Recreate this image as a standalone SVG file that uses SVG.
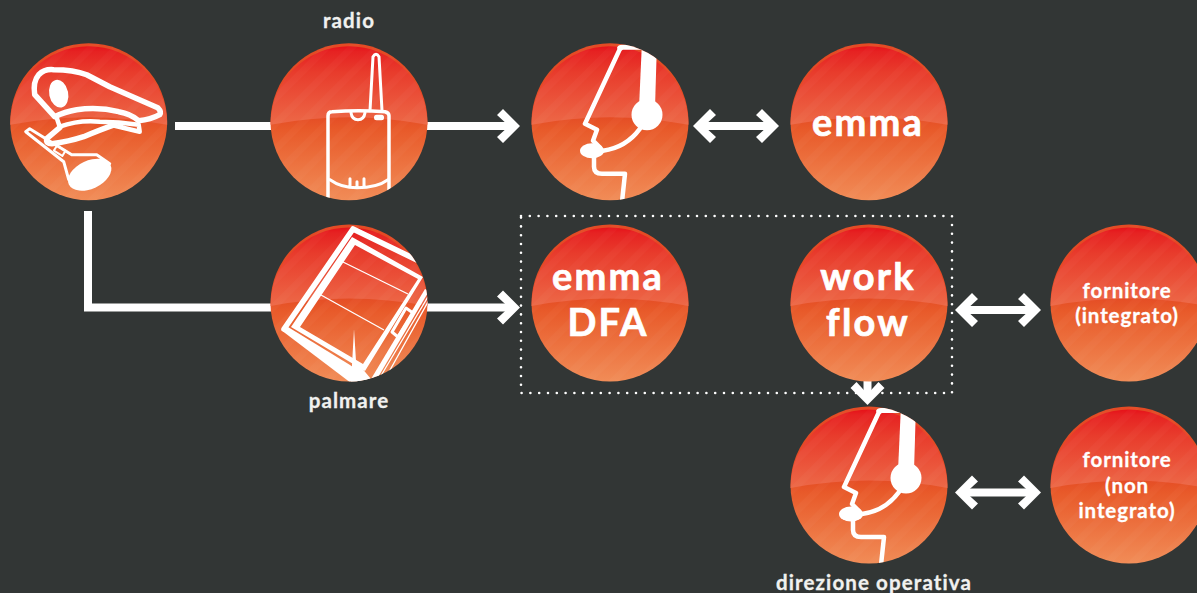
<svg xmlns="http://www.w3.org/2000/svg" xmlns:xlink="http://www.w3.org/1999/xlink" width="1197" height="593" viewBox="0 0 1197 593">
<style>
text{font-family:Lato,"Noto Sans",sans-serif;font-weight:700;fill:#fff;text-anchor:middle}
.lab{font-size:20.500px;fill:#f1f1ef;letter-spacing:1.100px;stroke:#f1f1ef;stroke-width:.3px}
.big{font-size:38px;letter-spacing:2.200px;stroke:#fff;stroke-width:.7px}
.small{font-size:20.500px;letter-spacing:.9px;stroke:#fff;stroke-width:.3px}
.conn{fill:none;stroke:#fff;stroke-width:8}
.dot{fill:none;stroke:#fff;stroke-width:2.600;stroke-linecap:round;stroke-dasharray:0 8.800}
.ln{fill:none;stroke:#fff;stroke-width:4.500;stroke-linejoin:round;stroke-linecap:round}
.cap{fill:none;stroke:#fff;stroke-width:5.500;stroke-linejoin:round;stroke-linecap:round}
.th{fill:none;stroke:#fff;stroke-width:3;stroke-linejoin:round;stroke-linecap:round}
.hl{fill:none;stroke:#fff;stroke-width:1.300}
.f{fill:#fff}
</style>
<defs>
<linearGradient id="gLow" x1="0" y1="0" x2="0" y2="1"><stop offset=".45" stop-color="#e44a24"/><stop offset=".55" stop-color="#e85a2a"/><stop offset="1" stop-color="#f18c57"/></linearGradient>
<linearGradient id="gTop" gradientUnits="userSpaceOnUse" x1="0" y1="-78.500" x2="0" y2="5"><stop offset="0" stop-color="#e60814"/><stop offset=".1" stop-color="#e62222"/><stop offset=".35" stop-color="#e83c2c"/><stop offset="1" stop-color="#ed6a48"/></linearGradient>
<pattern id="stripe" width="18" height="18" patternUnits="userSpaceOnUse" patternTransform="rotate(-45)"><rect width="18" height="7" fill="#fff" opacity=".025"/></pattern>
<clipPath id="cc"><circle r="78.500"/></clipPath>
<g id="disc">
<circle r="78.500" fill="url(#gLow)"/>
<path d="M-78.500,3Q0,-12 78.500,3A78.500,78.500 0 0 0 -78.500,3Z" fill="url(#gTop)"/>
<circle r="78.500" fill="url(#stripe)"/>
</g>
<g id="headset" clip-path="url(#cc)">
<path class="ln" d="M10,-73L-25,2L-13,8L-17,19L-10,26M-16,34V45Q-16,52 -8,52L15,52L12,80"/>
<path class="f" d="M7,-74Q8,-77 12,-77L32,-78V-72H13L9,-70Z"/>
<path class="f" d="M32,-80H47L45,-14H29Z"/>
<circle class="f" cx="37" cy="-7" r="15.500"/>
<ellipse class="f" cx="-18" cy="29" rx="12" ry="7.500"/>
<path class="ln" d="M30,7Q16,26 -7,29"/>
</g>
<marker id="ah" markerUnits="userSpaceOnUse" markerWidth="30" markerHeight="40" viewBox="-25 -20 30 40" refX="-8" refY="0" orient="auto-start-reverse"><polygon class="f" points="0,0 -17,-17 -23,-11 -11,0 -23,11 -17,17"/></marker>
</defs>
<rect width="1197" height="593" fill="#323635"/>
<rect id="area" class="dot" x="521" y="216" width="431" height="177"/>
<g id="connectors">
<path class="conn" d="M175,126H512" marker-end="url(#ah)"/>
<path class="conn" d="M88,211V307.500H512" marker-end="url(#ah)"/>
<path class="conn" d="M701,126H771" marker-start="url(#ah)" marker-end="url(#ah)"/>
<path class="conn" d="M963,310H1033" marker-start="url(#ah)" marker-end="url(#ah)"/>
<path class="conn" d="M963,492.500H1033" marker-start="url(#ah)" marker-end="url(#ah)"/>
<path class="conn" d="M867.500,378V397" marker-end="url(#ah)"/>
</g>
<g id="driver" transform="translate(88.700,121.700)">
<use href="#disc"/>
<g clip-path="url(#cc)">
<path class="cap" d="M-34,-5L-54,-27Q-56,-40 -50,-47Q-44,-53 -35,-52Q-15,-52 -2,-47L21,-35L69,-14Q73,-10 71,-7Q62,-2 50,-1Q42,-8 30,-10Q10,-15 -12,-12Q-24,-10 -34,-5Z"/>
<ellipse class="f" cx="-30" cy="-28" rx="9.500" ry="14" transform="rotate(-12 -30 -28)"/>
<path class="ln" d="M-32,-4L-29,5Q-10,-2 11,0Q30,0 50,3L51,10L26,4"/>
<path class="cap" d="M-29,6L-42,17Q-43,22 -37,22Q-20,20 -5,15Q12,8 26,3"/>
<path class="th" d="M-63,10L-59,7L-17,33H8L21,42M-63,10L-25,40L-20,58"/>
<ellipse class="f" cx="1" cy="53" rx="23" ry="14" transform="rotate(-25 1 53)"/>
<rect class="th" x="-34" y="26" width="10" height="6" transform="rotate(32 -29 29)" style="stroke-width:2"/>
</g>
</g>
<g id="radio" transform="translate(349,121.700)">
<use href="#disc"/>
<g clip-path="url(#cc)">
<path class="th" d="M21,-11L24,-65Q27,-70 30,-65L33,-11"/>
<path class="th" style="stroke-width:3.500" d="M-21,80V-6Q-21,-10 -17,-10Q10,-12 36,-10Q40,-9 40,-6V80"/>
<path class="th" d="M2,-9Q3,-2 9,-2Q15,-2 16,-9"/>
<rect class="f" x="25" y="-7" width="10" height="5.500" rx="2.500"/>
<path class="th" d="M-19,58Q-8,66 8,66Q28,66 39,58M1,57V65M8,60V66M15,57V65"/>
</g>
<text class="lab" x="0" y="-93.500">radio</text>
</g>
<g id="operator" transform="translate(610,121.700)">
<use href="#disc"/>
<use href="#headset"/>
</g>
<g id="emma" transform="translate(869,121.700)">
<use href="#disc"/>
<text class="big" x="-1" y="14">emma</text>
</g>
<g id="palmare" transform="translate(349,303)">
<use href="#disc"/>
<g clip-path="url(#cc)">
<path class="f" fill-rule="evenodd" d="M3,-66L74,-26L16,68L-58,24ZM6,-58L-49,24L14,61L69,-24Z"/>
<path class="cap" d="M4,-74L-65,26M4,-74L72,-41"/>
<path class="f" d="M-68,27L-61,24L1,62L21,76L19,80L2,80Z"/>
<path class="hl" d="M-6,-41L59,-9M-28,-8L35,27"/>
<path class="f" d="M5,26L7,58L22,76L2,80Z"/>
<path class="f" d="M76,-14L80,-12L28,76H22Z"/>
<path class="hl" d="M80,-8L30,76M80,-3L36,76"/>
<path class="th" d="M57,5L64,10L49,34L43,29Z"/>
</g>
<text class="lab" x="0" y="105">palmare</text>
</g>
<g id="emma-dfa" transform="translate(610,303)">
<use href="#disc"/>
<text class="big" x="-2" y="-13">emma</text>
<text class="big" x="-2" y="33">DFA</text>
</g>
<g id="workflow" transform="translate(869,303)">
<use href="#disc"/>
<text class="big" x="-1" y="-13">work</text>
<text class="big" x="-1" y="33">flow</text>
</g>
<g id="fornitore-integrato" transform="translate(1129,303)">
<use href="#disc"/>
<text class="small" x="-2" y="-5">fornitore</text>
<text class="small" x="-2" y="20">(integrato)</text>
</g>
<g id="direzione" transform="translate(869,485)">
<use href="#disc"/>
<use href="#headset"/>
<text class="lab" x="5" y="105">direzione operativa</text>
</g>
<g id="fornitore-non" transform="translate(1129,485)">
<use href="#disc"/>
<text class="small" x="-2" y="-18">fornitore</text>
<text class="small" x="-2" y="8">(non</text>
<text class="small" x="-2" y="33">integrato)</text>
</g>
</svg>
